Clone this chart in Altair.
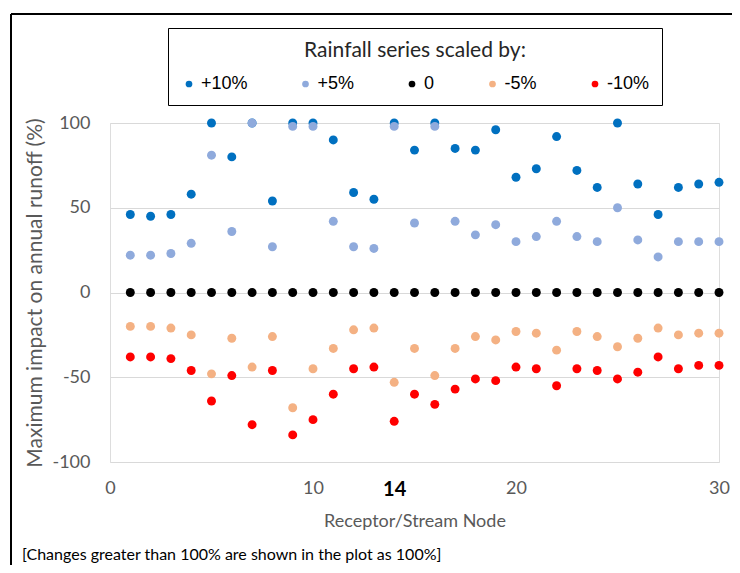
import altair as alt
import pandas as pd

nodes = list(range(1, 31))
series_names = ["+10%", "+5%", "0", "-5%", "-10%"]
series_colors = ["#0070C0", "#8FAADC", "#000000", "#F4B183", "#FF0000"]

plus10 = [46, 45, 46, 58, 100, 80, 100, 54, 100, 100, 90, 59, 55, 100, 84,
          100, 85, 84, 96, 68, 73, 92, 72, 62, 100, 64, 46, 62, 64, 65]
plus5 = [22, 22, 23, 29, 81, 36, 100, 27, 98, 98, 42, 27, 26, 98, 41,
         98, 42, 34, 40, 30, 33, 42, 33, 30, 50, 31, 21, 30, 30, 30]
zero = [0, 0, 0, 0, 0, 0, 0, 0, 0, 0, 0, 0, 0, 0, 0,
        0, 0, 0, 0, 0, 0, 0, 0, 0, 0, 0, 0, 0, 0, 0]
minus5 = [-20, -20, -21, -25, -48, -27, -44, -26, -68, -45, -33, -22, -21, -53, -33,
          -49, -33, -26, -28, -23, -24, -34, -23, -26, -32, -27, -21, -25, -24, -24]
minus10 = [-38, -38, -39, -46, -64, -49, -78, -46, -84, -75, -60, -45, -44, -76, -60,
           -66, -57, -51, -52, -44, -45, -55, -45, -46, -51, -47, -38, -45, -43, -43]

x_ticks = [0, 10, 14, 20, 30]
y_ticks = [-100, -50, 0, 50, 100]
note = "[Changes greater than 100%  are shown in the plot as 100%]"

rows = []
for name, vals in zip(series_names, [plus10, plus5, zero, minus5, minus10]):
    for n, v in zip(nodes, vals):
        rows.append({"node": n, "impact": v, "series": name})
df = pd.DataFrame(rows)

GRAY = "#595959"

points = alt.Chart(df).mark_circle(size=80, opacity=1).encode(
    x=alt.X("node:Q", scale=alt.Scale(domain=[0, 30], nice=False),
            axis=alt.Axis(values=x_ticks, title="Receptor/Stream Node", grid=False,
                          domain=False, ticks=False, labelFlush=False, labelOverlap=False,
                          labelPadding=17, titlePadding=13,
                          labelFontSize={"expr": "datum.value == 14 ? 20 : 18"},
                          labelFontWeight={"expr": "datum.value == 14 ? 'bold' : 'normal'"},
                          labelColor={"expr": "datum.value == 14 ? '#000000' : '#595959'"},
                          labelFont="Lato", titleFont="Lato", titleFontSize=18,
                          titleFontWeight="normal", titleColor=GRAY)),
    y=alt.Y("impact:Q", scale=alt.Scale(domain=[-100, 100], nice=False),
            axis=alt.Axis(values=y_ticks, title="Maximum impact on annual runoff (%)",
                          labelExpr="'' + datum.value",
                          grid=True, gridColor="#D9D9D9", domain=False, ticks=False,
                          labelFlush=False, labelPadding=20, titlePadding=6,
                          labelFont="Lato", labelFontSize=18, labelColor=GRAY,
                          titleFont="Lato", titleFontSize=21, titleFontWeight="normal",
                          titleColor=GRAY)),
    color=alt.Color("series:N", sort=series_names,
                    scale=alt.Scale(domain=series_names, range=series_colors),
                    legend=alt.Legend(orient="none", legendX=58, legendY=-95,
                                      direction="horizontal", columns=5,
                                      title="Rainfall series scaled by:",
                                      titleAnchor="middle", titleFont="Lato",
                                      titleFontSize=21, titleFontWeight="normal",
                                      titleColor="#262626", titleLimit=600,
                                      titlePadding=14,
                                      labelFont="Liberation Sans", labelFontSize=18,
                                      labelColor="#000000", labelOffset=3,
                                      symbolType="circle", symbolSize=45,
                                      symbolStrokeWidth=0, columnPadding=48.5,
                                      padding=12, strokeColor="#000000",
                                      fillColor="white")),
)

frame_data = pd.DataFrame({"k": [0]})
left_line = alt.Chart(frame_data).mark_rule(color="black", strokeWidth=2).encode(
    x=alt.value(-99), y=alt.value(-109), y2=alt.value(442))
top_line = alt.Chart(frame_data).mark_rule(color="black", strokeWidth=2).encode(
    x=alt.value(-99), x2=alt.value(622), y=alt.value(-109))
footnote = alt.Chart(frame_data).mark_text(
    text=note, align="left", baseline="middle", font="Lato",
    fontSize=16, color="black").encode(x=alt.value(-88), y=alt.value(432))

chart = alt.layer(points, left_line, top_line, footnote).properties(
    width=609, height=339,
    autosize=alt.AutoSizeParams(type="none"),
    padding={"left": 102, "top": 115, "right": 13, "bottom": 103},
).configure_view(stroke="#D9D9D9", strokeWidth=1).configure_legend(
    strokeWidth=1.5).configure(background="white")

chart.save("out.html", embed_options={"renderer": "svg", "actions": False})
